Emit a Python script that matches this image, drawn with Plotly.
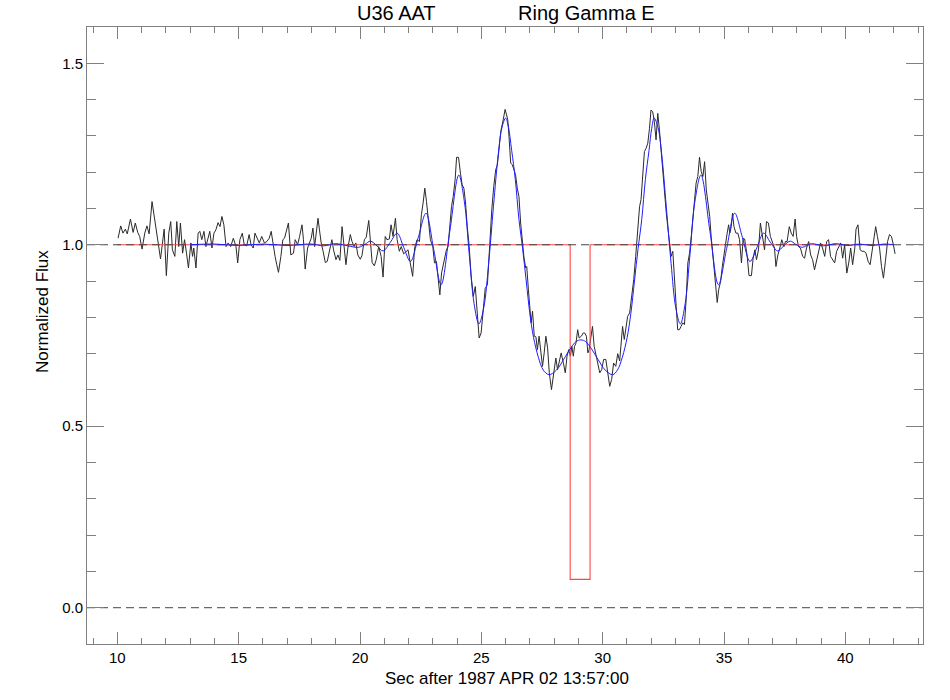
import plotly.graph_objects as go

# ---------------- data ----------------
t_obs = [
    10.03, 10.14, 10.23, 10.33, 10.41, 10.54, 10.65, 10.74, 10.84, 10.92,
    11.02, 11.13, 11.22, 11.31, 11.43, 11.53, 11.61, 11.71, 11.78, 11.86, 11.93,
    12.02, 12.12, 12.20, 12.27, 12.37, 12.45, 12.53, 12.60, 12.69, 12.77, 12.85, 12.93,
    13.03, 13.10, 13.15, 13.24, 13.33, 13.40, 13.48, 13.57, 13.65, 13.73, 13.81, 13.90, 13.98,
    14.06, 14.15, 14.23, 14.31, 14.39, 14.48, 14.57, 14.67, 14.78, 14.89, 14.96,
    15.05, 15.15, 15.23, 15.33, 15.43, 15.51, 15.60, 15.67, 15.77, 15.85, 15.95,
    16.06, 16.16, 16.26, 16.34, 16.41, 16.50, 16.57, 16.64, 16.74, 16.82, 16.89, 16.98,
    17.05, 17.15, 17.26, 17.33, 17.43, 17.51, 17.61, 17.67, 17.74, 17.84, 17.91, 17.99,
    18.06, 18.13, 18.18, 18.27, 18.33, 18.40, 18.48, 18.57, 18.65, 18.73, 18.84, 18.91,
    19.01, 19.09, 19.17, 19.26, 19.34, 19.42, 19.50, 19.60, 19.67, 19.76, 19.83, 19.91,
    20.01, 20.08, 20.18, 20.26, 20.36, 20.43, 20.50, 20.59, 20.67, 20.77, 20.87, 20.95,
    21.04, 21.11, 21.21, 21.28, 21.36, 21.46, 21.53, 21.62, 21.70, 21.80, 21.89, 21.98,
    22.07, 22.17, 22.25, 22.35, 22.45, 22.53, 22.60, 22.67, 22.74, 22.84, 22.90,
    23.00, 23.07, 23.15, 23.22, 23.29, 23.36, 23.43, 23.49, 23.56, 23.63, 23.70, 23.77, 23.84, 23.92, 23.98,
    24.06, 24.14, 24.21, 24.28, 24.35, 24.42, 24.50, 24.58, 24.67, 24.75, 24.83, 24.91, 24.99,
    25.08, 25.16, 25.25, 25.34, 25.43, 25.51, 25.59, 25.66, 25.73, 25.80, 25.90, 25.98,
    26.03, 26.09, 26.14, 26.21, 26.28, 26.35, 26.41, 26.48, 26.55, 26.62, 26.69, 26.76, 26.83, 26.87, 26.94,
    27.01, 27.05, 27.11, 27.18, 27.25, 27.31, 27.38, 27.45, 27.52, 27.59, 27.66, 27.73, 27.80, 27.89, 27.98,
    28.07, 28.14, 28.21, 28.29, 28.38, 28.46, 28.53, 28.60, 28.67, 28.73, 28.79, 28.84, 28.90, 28.97,
    29.03, 29.12, 29.20, 29.26, 29.33, 29.39, 29.44, 29.52, 29.58, 29.65, 29.71, 29.80, 29.88, 29.96,
    30.04, 30.13, 30.21, 30.29, 30.37, 30.45, 30.54, 30.62, 30.70, 30.76, 30.82, 30.89, 30.96,
    31.03, 31.11, 31.19, 31.28, 31.36, 31.44, 31.52, 31.58, 31.65, 31.72, 31.79, 31.86, 31.93, 31.99,
    32.06, 32.13, 32.20, 32.27, 32.34, 32.41, 32.48, 32.54, 32.61, 32.68, 32.75, 32.82, 32.89, 32.96,
    33.03, 33.09, 33.16, 33.23, 33.30, 33.37, 33.44, 33.51, 33.58, 33.65, 33.72, 33.79, 33.85, 33.92, 33.99,
    34.06, 34.13, 34.20, 34.27, 34.34, 34.41, 34.47, 34.54, 34.61, 34.68, 34.72, 34.78, 34.86, 34.93,
    35.00, 35.07, 35.13, 35.19, 35.24, 35.30, 35.35, 35.41, 35.49, 35.57, 35.64, 35.72, 35.79, 35.85, 35.95,
    36.03, 36.13, 36.20, 36.27, 36.34, 36.42, 36.50, 36.58, 36.67, 36.75, 36.83, 36.91,
    37.00, 37.08, 37.14, 37.22, 37.30, 37.38, 37.47, 37.53, 37.60, 37.69, 37.77, 37.85, 37.93, 37.99,
    38.07, 38.15, 38.24, 38.32, 38.40, 38.49, 38.57, 38.65, 38.73, 38.82, 38.90, 38.98,
    39.06, 39.15, 39.23, 39.31, 39.39, 39.48, 39.56, 39.64, 39.73, 39.81, 39.89, 39.97,
    40.06, 40.14, 40.22, 40.30, 40.39, 40.44, 40.52, 40.61, 40.69, 40.77, 40.85, 40.94,
    41.02, 41.10, 41.18, 41.25, 41.32, 41.41, 41.49, 41.57, 41.65, 41.74, 41.82, 41.90, 41.98, 42.05,
]
flux_obs = [
    1.018, 1.052, 1.032, 1.043, 1.030, 1.071, 1.034, 1.060, 1.034, 1.023,
    0.988, 1.032, 1.052, 1.030, 1.119, 1.073, 1.050, 1.000, 0.961, 1.005, 1.043,
    0.915, 1.032, 1.064, 0.986, 0.968, 1.064, 0.995, 1.060, 0.977, 1.014, 0.977, 0.936,
    1.005, 0.968, 0.991, 0.936, 1.032, 1.037, 1.014, 1.037, 0.995, 1.014, 1.037, 0.991, 1.032,
    1.041, 1.061, 1.050, 1.078, 1.055, 0.995, 1.005, 0.995, 1.018, 0.995, 0.950,
    1.014, 1.032, 1.000, 0.997, 1.028, 1.000, 0.991, 1.032, 1.014, 1.005, 1.023,
    1.005, 1.009, 1.018, 1.037, 1.000, 0.968, 0.945, 0.924, 0.968, 1.014, 1.018, 1.046,
    1.060, 0.972, 0.977, 1.014, 1.000, 1.023, 1.055, 1.014, 0.933, 0.991, 1.005, 1.018,
    1.046, 0.995, 1.023, 1.073, 1.041, 1.005, 0.982, 0.951, 0.954, 0.982, 1.014, 0.986,
    0.959, 0.972, 0.957, 1.050, 1.005, 0.945, 0.991, 1.028, 1.009, 0.995, 1.005, 0.972,
    0.960, 0.970, 1.014, 1.021, 1.067, 1.005, 0.951, 0.942, 0.959, 0.995, 0.968, 0.911,
    1.023, 1.014, 1.016, 1.055, 1.023, 1.073, 1.014, 0.982, 0.995, 0.975, 0.982, 0.986,
    0.950, 0.913, 0.991, 1.014, 1.009, 1.083, 1.115, 1.156, 1.119, 1.064, 1.014,
    0.995, 0.950, 0.954, 0.908, 0.862, 0.922, 0.945, 0.968, 0.986, 0.995, 1.046, 1.105, 1.133, 1.179, 1.241,
    1.241, 1.197, 1.165, 1.156, 1.115, 1.050, 0.995, 0.913, 0.858, 0.885, 0.812, 0.743, 0.757,
    0.821, 0.880, 0.890, 1.000, 1.096, 1.160, 1.206, 1.220, 1.261, 1.312, 1.344, 1.373,
    1.360, 1.344, 1.298, 1.225, 1.220, 1.202, 1.193, 1.156, 1.133, 1.060, 1.000, 0.963, 0.936, 0.940, 0.876,
    0.812, 0.785, 0.817, 0.748, 0.746, 0.711, 0.748, 0.702, 0.665, 0.702, 0.748, 0.716, 0.647, 0.601, 0.647,
    0.688, 0.656, 0.674, 0.702, 0.674, 0.647, 0.693, 0.711, 0.693, 0.720, 0.693, 0.720, 0.729, 0.766,
    0.743, 0.748, 0.757, 0.757, 0.748, 0.702, 0.711, 0.757, 0.775, 0.720, 0.702, 0.674, 0.647, 0.656,
    0.684, 0.684, 0.647, 0.610, 0.629, 0.674, 0.665, 0.700, 0.680, 0.740, 0.775, 0.739, 0.775,
    0.803, 0.812, 0.849, 0.904, 0.968, 1.050, 1.105, 1.124, 1.197, 1.257, 1.266, 1.280, 1.321, 1.371,
    1.367, 1.339, 1.289, 1.362, 1.316, 1.252, 1.216, 1.151, 1.096, 1.050, 1.005, 0.968, 0.982, 0.885,
    0.830, 0.766, 0.766, 0.775, 0.785, 0.780, 0.849, 0.950, 0.977, 1.023, 1.069, 1.115, 1.170, 1.188, 1.241,
    1.202, 1.188, 1.229, 1.151, 1.115, 1.078, 1.023, 0.968, 0.904, 0.867, 0.841, 0.876, 0.899, 0.940,
    0.977, 1.014, 1.032, 1.055, 1.032, 1.050, 1.087, 1.050, 1.032, 1.032, 1.014, 0.950, 1.018, 1.016, 0.972,
    0.915, 0.915, 0.963, 0.986, 0.959, 0.986, 1.060, 1.028, 0.986, 1.064, 1.060, 1.023,
    1.005, 0.991, 0.940, 0.972, 0.991, 1.014, 0.995, 1.009, 1.009, 1.050, 1.032, 1.023, 1.071, 1.023,
    0.995, 0.991, 0.968, 0.963, 0.991, 1.009, 0.972, 0.959, 0.931, 0.959, 0.977, 1.005,
    0.991, 0.968, 1.009, 1.014, 0.968, 0.959, 0.950, 0.982, 0.995, 1.005, 0.963, 1.000,
    0.922, 0.950, 0.991, 0.945, 0.991, 1.043, 1.055, 0.986, 0.982, 0.982, 0.977, 0.954,
    0.945, 0.986, 1.023, 1.050, 1.023, 0.991, 0.940, 0.908, 0.954, 1.009, 1.028, 1.023, 1.000, 0.975,
]

t_model = [
    13.0, 14.0, 15.0, 16.0, 17.0, 18.0, 18.5, 19.0, 19.5, 19.94,
    20.2, 20.43, 20.7, 20.95, 21.25, 21.53, 21.8, 22.08, 22.4, 22.72,
    23.03, 23.34, 23.7, 24.07, 24.3, 24.5, 24.7, 24.9, 25.1, 25.3,
    25.5, 25.7, 25.85, 26.0, 26.1, 26.25, 26.4, 26.55, 26.7, 26.85,
    27.0, 27.15, 27.35, 27.55, 27.79, 28.1, 28.4, 28.7, 28.9, 29.1,
    29.3, 29.5, 29.8, 30.1, 30.41, 30.61, 30.81, 31.01, 31.16, 31.31,
    31.46, 31.61, 31.76, 31.91, 32.02, 32.12, 32.28, 32.43, 32.62, 32.82,
    33.01, 33.2, 33.4, 33.6, 33.8, 34.05, 34.42, 34.77, 35.11, 35.44,
    35.76, 36.07, 36.36, 36.63, 36.91, 37.21, 37.46, 37.73, 37.96, 38.22,
    38.6, 39.1, 39.6, 40.1, 40.6, 41.1, 41.6, 42.0,
]
flux_model = [
    1.000, 1.002, 0.998, 1.002, 0.998, 1.002, 0.997, 1.003, 0.997, 0.993,
    1.001, 1.010, 0.997, 0.983, 1.007, 1.032, 0.993, 0.954, 1.020, 1.087,
    0.990, 0.890, 1.037, 1.192, 1.119, 0.975, 0.838, 0.782, 0.827, 0.948,
    1.106, 1.251, 1.323, 1.349, 1.330, 1.260, 1.180, 1.070, 0.990, 0.900,
    0.810, 0.745, 0.690, 0.655, 0.642, 0.655, 0.685, 0.717, 0.733, 0.738,
    0.733, 0.717, 0.685, 0.655, 0.642, 0.655, 0.690, 0.745, 0.810, 0.900,
    0.990, 1.070, 1.180, 1.260, 1.320, 1.349, 1.323, 1.251, 1.106, 0.948,
    0.827, 0.782, 0.838, 0.975, 1.119, 1.192, 1.037, 0.890, 0.990, 1.087,
    1.020, 0.954, 0.993, 1.032, 1.007, 0.983, 0.997, 1.010, 1.001, 0.993,
    1.003, 0.997, 1.003, 0.998, 1.002, 0.998, 1.002, 1.000,
]

# square-well occultation profile
t_profile = [10.0, 28.66, 28.66, 29.48, 29.48, 42.0]
flux_profile = [1.0, 1.0, 0.078, 0.078, 1.0, 1.0]

ref_levels = [1.0, 0.0]
X_RANGE = [8.75, 43.2]
Y_RANGE = [-0.1, 1.6]
x_ticks = [10, 15, 20, 25, 30, 35, 40]
y_ticks = [0.0, 0.5, 1.0, 1.5]

title_left = "U36 AAT"
title_right = "Ring Gamma E"
x_title = "Sec after 1987 APR 02 13:57:00"
y_title = "Normalized Flux"

FONT = "Liberation Sans, Arial, Helvetica, sans-serif"
AXC = "#808080"

# plot box in page pixels
BOX_L, BOX_R, BOX_T, BOX_B = 87, 923, 27, 644
W, H = 950, 700

fig = go.Figure()

fig.add_trace(go.Scatter(x=t_obs, y=flux_obs, mode="lines",
                         line=dict(color="#2a2a2a", width=1), hoverinfo="skip"))
fig.add_trace(go.Scatter(x=t_profile, y=flux_profile, mode="lines",
                         line=dict(color="rgb(255,70,70)", width=1.1), hoverinfo="skip"))
for lvl in ref_levels:
    fig.add_trace(go.Scatter(x=X_RANGE, y=[lvl, lvl], mode="lines",
                             line=dict(color="#444444", width=1, dash="8px,5px"),
                             hoverinfo="skip"))
fig.add_trace(go.Scatter(x=t_model, y=flux_model, mode="lines",
                         line=dict(color="rgb(30,30,255)", width=1, shape="spline", smoothing=1.0),
                         hoverinfo="skip"))

axis_common = dict(
    showgrid=False, zeroline=False, showline=True, linecolor=AXC, linewidth=1,
    mirror="allticks", ticks="inside", tickcolor=AXC, tickwidth=1,
    tickfont=dict(family=FONT, size=15, color="black"),
)

bw = BOX_R - BOX_L
bh = BOX_B - BOX_T


def px_x(px):
    return (px - BOX_L) / bw


def px_y(py):
    return (BOX_B - py) / bh


fig.update_layout(
    width=W, height=H,
    margin=dict(l=BOX_L, r=W - BOX_R, t=BOX_T, b=H - BOX_B, pad=0, autoexpand=False),
    paper_bgcolor="white", plot_bgcolor="white",
    showlegend=False,
    hovermode=False,
    font=dict(family=FONT, color="black"),
    xaxis=dict(range=X_RANGE, tickvals=x_ticks, ticklen=12, automargin=False,
               minor=dict(ticks="inside", ticklen=6, dtick=1, tick0=0, tickcolor=AXC, showgrid=False),
               **axis_common),
    yaxis=dict(range=Y_RANGE, tickvals=y_ticks, tickformat=".1f", ticklen=17, automargin=False,
               minor=dict(ticks="inside", ticklen=9, dtick=0.1, tick0=0, tickcolor=AXC, showgrid=False),
               **axis_common),
    annotations=[
        dict(text=title_left, x=px_x(396), y=px_y(13), xref="paper", yref="paper",
             xanchor="center", yanchor="middle", showarrow=False, font=dict(size=20, family=FONT)),
        dict(text=title_right, x=px_x(586), y=px_y(13), xref="paper", yref="paper",
             xanchor="center", yanchor="middle", showarrow=False, font=dict(size=20, family=FONT)),
        dict(text=x_title, x=px_x(507), y=px_y(678), xref="paper", yref="paper",
             xanchor="center", yanchor="middle", showarrow=False, font=dict(size=17, family=FONT)),
        dict(text=y_title, x=px_x(42), y=px_y(312), xref="paper", yref="paper",
             xanchor="center", yanchor="middle", showarrow=False, textangle=-90,
             font=dict(size=17, family=FONT)),
    ],
)

# remove the default page margin so the figure sits at the window's top-left corner
fig.write_html("out.html",
               config={"displayModeBar": False},
               post_script="document.body.style.margin='0';document.body.style.overflow='hidden';")
